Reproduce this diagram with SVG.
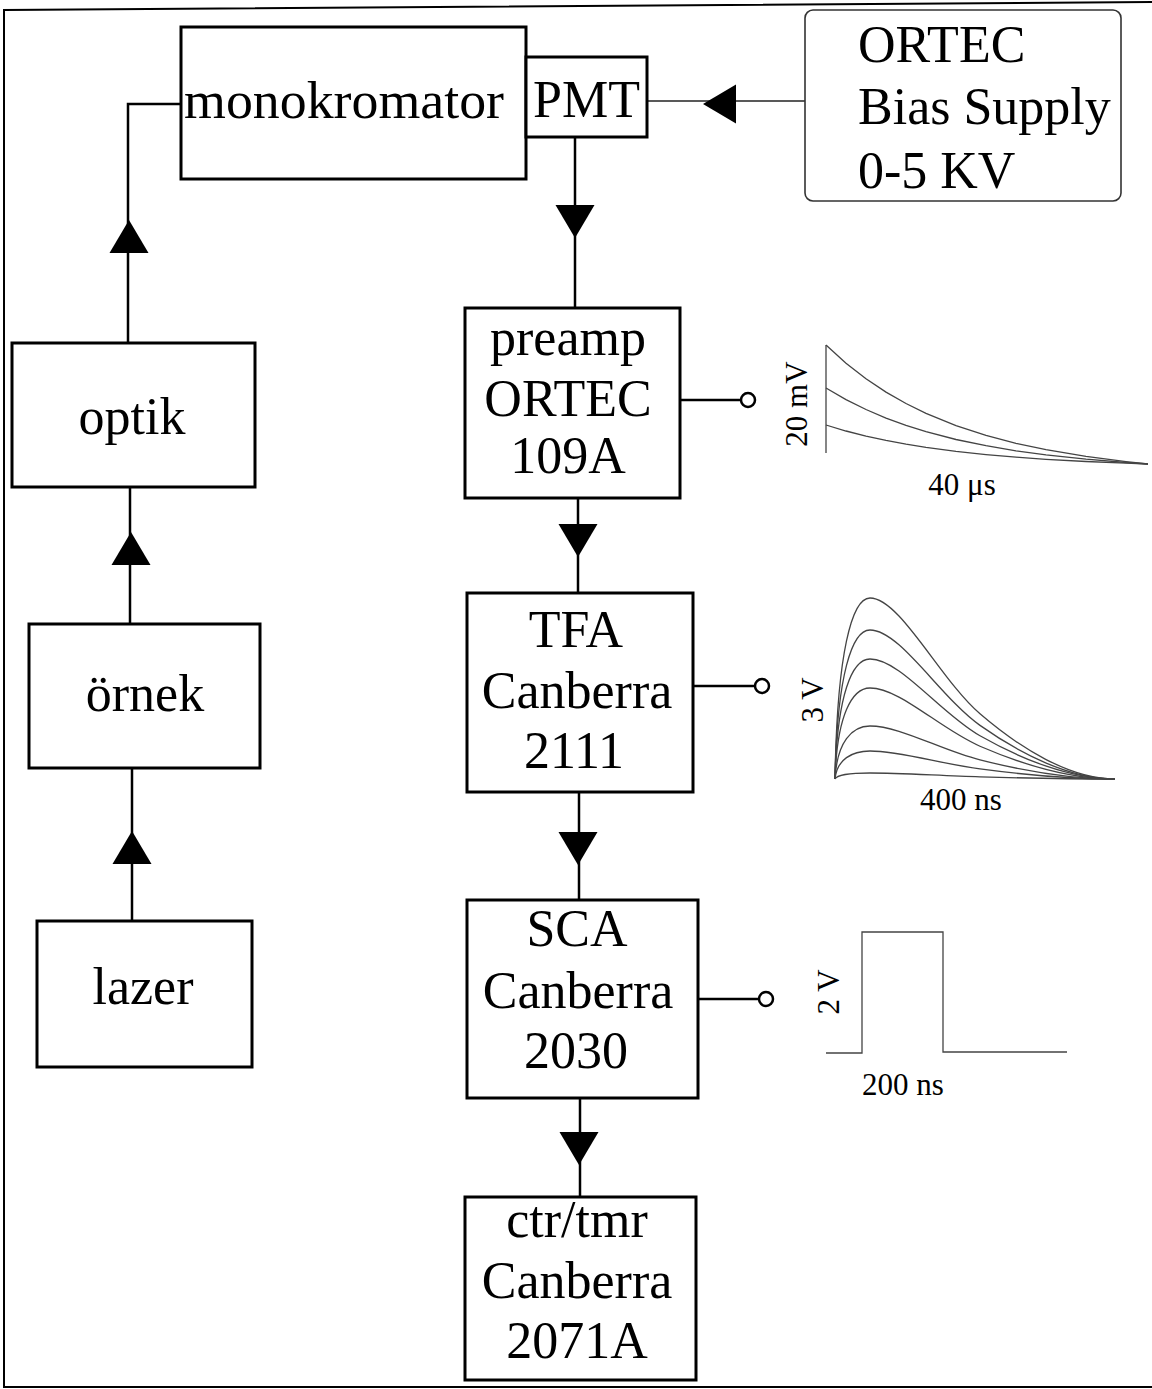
<svg xmlns="http://www.w3.org/2000/svg" xmlns:xlink="http://www.w3.org/1999/xlink" width="1152" height="1389" viewBox="0 0 1152 1389">
<style>
.box{fill:#fff;stroke:#000;stroke-width:3}
.rbox{fill:#fff;stroke:#333;stroke-width:1.6}
.lbl{font-family:"Liberation Serif","Times New Roman",serif;font-size:52px;fill:#000}
.mid{text-anchor:middle}
.sm{font-family:"Liberation Serif","Times New Roman",serif;font-size:31px;fill:#000;text-anchor:middle}
.con{fill:none;stroke:#000;stroke-width:2.5}
.thin{fill:none;stroke:#222;stroke-width:1.4}
.wave{fill:none;stroke:#444;stroke-width:1.3}
.tap{fill:#fff;stroke:#000;stroke-width:2.5}
.frame{fill:none;stroke:#000;stroke-width:2}
</style>
<defs>
<path id="ah" d="M0,0 L-19.5,-33 L19.5,-33 Z" fill="#000"/>
</defs>
<path class="frame" d="M1152,2 L4,10 L4,1387 L1152,1387"/>

<g id="connectors">
<path class="thin" d="M805,101 L647,101"/>
<use xlink:href="#ah" href="#ah" transform="translate(703,104) rotate(90)"/>
<path class="con" d="M575,137 L575,308"/>
<use xlink:href="#ah" href="#ah" transform="translate(575,238)"/>
<path class="con" d="M578,498 L578,593"/>
<use xlink:href="#ah" href="#ah" transform="translate(578,557)"/>
<path class="con" d="M579,792 L579,900"/>
<use xlink:href="#ah" href="#ah" transform="translate(578,865)"/>
<path class="con" d="M580,1098 L580,1197"/>
<use xlink:href="#ah" href="#ah" transform="translate(579,1165)"/>
<path class="con" d="M132,921 L132,768"/>
<use xlink:href="#ah" href="#ah" transform="translate(132,831) rotate(180)"/>
<path class="con" d="M130,624 L130,487"/>
<use xlink:href="#ah" href="#ah" transform="translate(131,532) rotate(180)"/>
<path class="con" d="M128,343 L128,104 L181,104"/>
<use xlink:href="#ah" href="#ah" transform="translate(129,220) rotate(180)"/>
<path class="con" d="M680,400 L741,400"/>
<circle class="tap" cx="748" cy="400" r="7"/>
<path class="con" d="M693,686 L755,686"/>
<circle class="tap" cx="762" cy="686" r="7"/>
<path class="con" d="M698,999 L759,999"/>
<circle class="tap" cx="766" cy="999" r="7"/>
</g>

<g id="monokromator">
<rect class="box" x="181" y="27" width="345" height="152"/>
<text class="lbl" x="184" y="118" font-size="54" textLength="320" lengthAdjust="spacingAndGlyphs">monokromator</text>
</g>
<g id="pmt">
<rect class="box" x="526" y="57" width="121" height="80"/>
<text class="lbl" x="533" y="117">PMT</text>
</g>
<g id="bias">
<rect class="rbox" x="805" y="10" width="316" height="191" rx="8"/>
<text class="lbl" x="858" y="62">ORTEC</text>
<text class="lbl" x="858" y="124">Bias Supply</text>
<text class="lbl" x="858" y="188">0-5 KV</text>
</g>
<g id="optik">
<rect class="box" x="12" y="343" width="243" height="144"/>
<text class="lbl mid" x="132" y="434">optik</text>
</g>
<g id="ornek">
<rect class="box" x="29" y="624" width="231" height="144"/>
<text class="lbl mid" x="145" y="711">örnek</text>
</g>
<g id="lazer">
<rect class="box" x="37" y="921" width="215" height="146"/>
<text class="lbl mid" x="143" y="1004">lazer</text>
</g>
<g id="preamp">
<rect class="box" x="465" y="308" width="215" height="190"/>
<text class="lbl mid" x="568" y="355">preamp</text>
<text class="lbl mid" x="568" y="416">ORTEC</text>
<text class="lbl mid" x="568" y="473">109A</text>
</g>
<g id="tfa">
<rect class="box" x="467" y="593" width="226" height="199"/>
<text class="lbl mid" x="576" y="647">TFA</text>
<text class="lbl mid" x="577" y="708">Canberra</text>
<text class="lbl mid" x="574" y="768">2111</text>
</g>
<g id="sca">
<rect class="box" x="467" y="900" width="231" height="198"/>
<text class="lbl mid" x="577" y="946">SCA</text>
<text class="lbl mid" x="578" y="1008">Canberra</text>
<text class="lbl mid" x="576" y="1068">2030</text>
</g>
<g id="ctrtmr">
<rect class="box" x="465" y="1197" width="231" height="183"/>
<text class="lbl mid" x="577" y="1237">ctr/tmr</text>
<text class="lbl mid" x="577" y="1298">Canberra</text>
<text class="lbl mid" x="577" y="1358">2071A</text>
</g>

<g id="wave-preamp">
<path class="wave" d="M826,345 L826,453"/>
<polyline class="wave" points="826,345 846,363.2 866,378.7 886,392.1 906,403.5 926,413.3 956,425.6 986,435.4 1016,443.3 1046,449.7 1086,456.4 1126,461.6 1148,464"/>
<polyline class="wave" points="826,388 846,399.6 866,409.5 886,418.1 906,425.4 926,431.6 956,439.5 986,445.7 1016,450.8 1046,454.9 1086,459.2 1126,462.5 1148,464"/>
<polyline class="wave" points="826,425 846,431 866,436.1 886,440.4 906,444.2 926,447.4 956,451.4 986,454.6 1016,457.2 1046,459.3 1086,461.5 1126,463.2 1148,464"/>
<text class="sm" transform="translate(807,404) rotate(-90)">20 mV</text>
<text class="sm" x="962" y="495">40 μs</text>
</g>
<g id="wave-tfa">
<path class="wave" d="M835,779 C837,652.3 852,598 870,598 C900,598 940,679.45 980,713.84 C1020,748.23 1070,779 1115,779"/>
<path class="wave" d="M835,779 C837,674.7 852,630 870,630 C900,630 940,697.05 980,725.36 C1020,753.67 1070,779 1115,779"/>
<path class="wave" d="M835,779 C837,695 852,659 870,659 C900,659 940,713 980,735.8 C1020,758.6 1070,779 1115,779"/>
<path class="wave" d="M835,779 C837,715.3 852,688 870,688 C900,688 940,728.95 980,746.24 C1020,763.53 1070,779 1115,779"/>
<path class="wave" d="M835,779 C837,741.9 852,726 870,726 C900,726 940,749.85 980,759.92 C1020,769.99 1070,779 1115,779"/>
<path class="wave" d="M835,779 C837,759.4 852,751 870,751 C900,751 940,763.6 980,768.92 C1020,774.24 1070,779 1115,779"/>
<path class="wave" d="M835,779 C837,774.8 852,773 870,773 C900,773 940,775.7 980,776.84 C1020,777.98 1070,779 1115,779"/>
<text class="sm" transform="translate(823,700) rotate(-90)">3 V</text>
<text class="sm" x="961" y="810">400 ns</text>
</g>
<g id="wave-sca">
<polyline class="wave" points="826,1053 862,1053 862,932 943,932 943,1052 1067,1052"/>
<text class="sm" transform="translate(839,992) rotate(-90)">2 V</text>
<text class="sm" x="903" y="1095">200 ns</text>
</g>
</svg>
